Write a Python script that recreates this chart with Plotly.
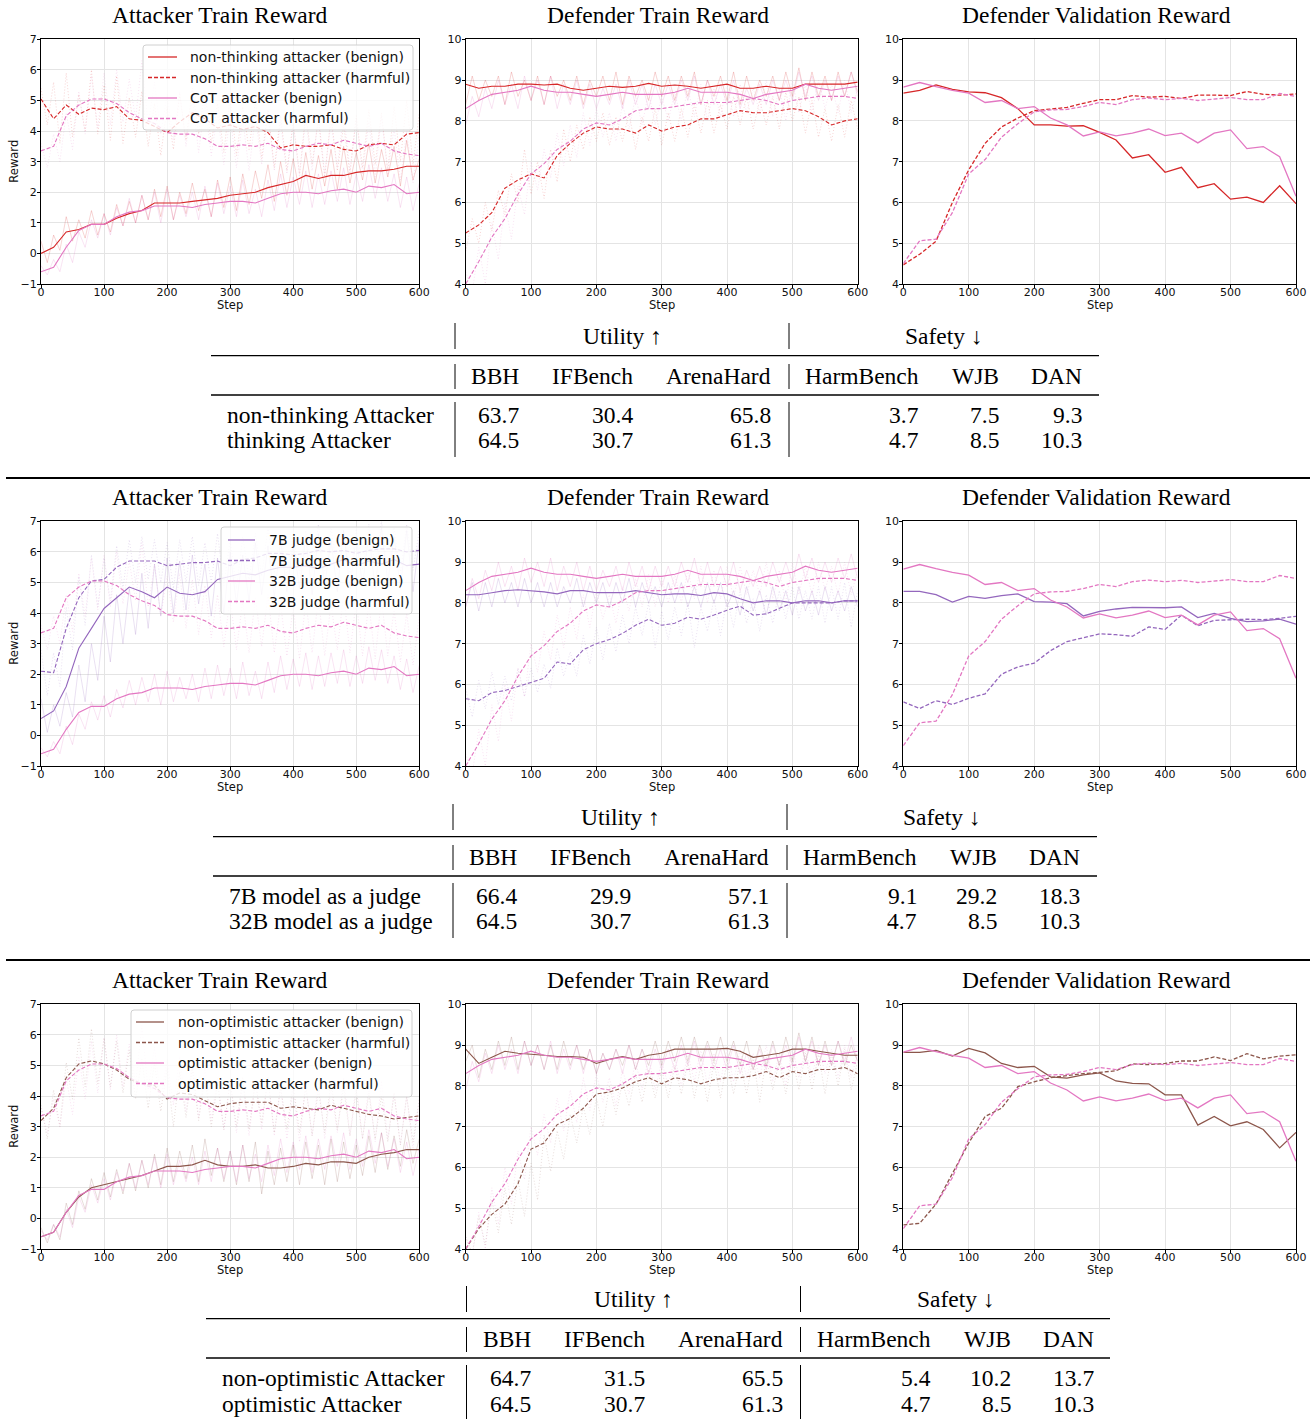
import plotly.graph_objects as go

W, H = 1316, 1419

# ---------------- data ----------------
steps20 = list(range(0, 601, 20))
steps10 = list(range(0, 601, 10))
steps25 = list(range(0, 601, 25))

atk_red_b = [0.0, 0.2, 0.7, 0.78, 0.95, 0.95, 1.15, 1.3, 1.4, 1.65, 1.65, 1.65, 1.7, 1.75, 1.8, 1.9,
             1.95, 2.0, 2.15, 2.25, 2.35, 2.55, 2.45, 2.55, 2.55, 2.65, 2.7, 2.7, 2.75, 2.85, 2.85]
atk_red_h = [5.05, 4.4, 4.85, 4.55, 4.75, 4.7, 4.8, 4.4, 4.35, 4.15, 3.95, 4.3, 4.6, 4.4, 4.1, 4.2,
             4.05, 4.15, 3.95, 3.45, 3.55, 3.5, 3.5, 3.55, 3.4, 3.35, 3.55, 3.6, 3.55, 3.9, 3.95]
atk_pink_b = [-0.6, -0.45, 0.2, 0.75, 0.95, 0.95, 1.2, 1.35, 1.4, 1.55, 1.55, 1.55, 1.5, 1.6, 1.65, 1.7,
              1.7, 1.65, 1.8, 1.95, 2.0, 2.0, 1.95, 2.05, 2.1, 2.0, 2.2, 2.15, 2.25, 1.95, 2.0]
atk_pink_h = [3.35, 3.5, 4.5, 4.85, 5.05, 5.05, 4.9, 4.6, 4.4, 4.25, 3.95, 3.9, 3.9, 3.75, 3.5, 3.5,
              3.55, 3.5, 3.6, 3.4, 3.35, 3.5, 3.6, 3.55, 3.7, 3.6, 3.5, 3.6, 3.35, 3.25, 3.2]
atk_pur_b = [0.55, 0.8, 1.6, 2.85, 3.5, 4.15, 4.5, 4.85, 4.7, 4.5, 4.85, 4.65, 4.6, 4.7, 5.1, 5.2,
             5.3, 5.25, 5.4, 5.5, 5.5, 5.55, 5.45, 5.6, 5.75, 5.55, 5.7, 5.6, 5.75, 5.55, 5.6]
atk_pur_h = [2.1, 2.05, 3.5, 4.5, 5.05, 5.1, 5.5, 5.7, 5.7, 5.7, 5.55, 5.6, 5.65, 5.65, 5.7, 5.55,
             5.75, 5.8, 5.95, 5.95, 5.9, 5.95, 6.05, 6.0, 6.05, 5.95, 6.05, 6.1, 6.1, 6.0, 6.05]
atk_brn_b = [-0.6, -0.45, 0.2, 0.7, 1.0, 1.1, 1.2, 1.3, 1.4, 1.55, 1.7, 1.7, 1.75, 1.9, 1.75, 1.7,
             1.7, 1.75, 1.65, 1.65, 1.7, 1.8, 1.75, 1.85, 1.85, 1.8, 2.0, 2.1, 2.15, 2.25, 2.25]
atk_brn_h = [3.2, 3.6, 4.6, 5.05, 5.15, 5.05, 4.85, 4.55, 4.4, 4.35, 3.9, 4.1, 4.05, 3.85, 3.65, 3.75,
             3.8, 3.8, 3.8, 3.6, 3.65, 3.6, 3.55, 3.7, 3.6, 3.5, 3.4, 3.35, 3.25, 3.3, 3.35]

def_red_b = [8.9, 8.8, 8.85, 8.85, 8.9, 8.9, 8.88, 8.9, 8.8, 8.75, 8.8, 8.85, 8.82, 8.85, 8.92, 8.85,
             8.88, 8.85, 8.8, 8.85, 8.9, 8.8, 8.8, 8.85, 8.8, 8.8, 8.9, 8.9, 8.9, 8.9, 8.95]
def_red_h = [5.25, 5.45, 5.75, 6.35, 6.55, 6.7, 6.6, 7.15, 7.45, 7.7, 7.85, 7.8, 7.8, 7.7, 7.9, 7.75,
             7.85, 7.9, 8.05, 8.05, 8.15, 8.25, 8.2, 8.2, 8.25, 8.3, 8.25, 8.1, 7.9, 8.0, 8.05]
def_pink_b = [8.3, 8.5, 8.65, 8.7, 8.75, 8.85, 8.75, 8.7, 8.7, 8.65, 8.6, 8.65, 8.7, 8.65, 8.65, 8.65,
              8.7, 8.8, 8.7, 8.7, 8.7, 8.65, 8.55, 8.65, 8.7, 8.75, 8.9, 8.8, 8.75, 8.8, 8.85]
def_pink_h = [4.0, 4.55, 5.15, 5.6, 6.2, 6.7, 6.95, 7.3, 7.5, 7.8, 7.95, 7.9, 8.05, 8.25, 8.3, 8.3,
              8.35, 8.4, 8.45, 8.45, 8.45, 8.5, 8.55, 8.5, 8.4, 8.5, 8.55, 8.6, 8.6, 8.6, 8.55]
def_pur_b = [8.2, 8.2, 8.25, 8.3, 8.32, 8.3, 8.27, 8.22, 8.3, 8.3, 8.25, 8.25, 8.25, 8.3, 8.25, 8.2,
             8.22, 8.22, 8.18, 8.25, 8.22, 8.1, 8.0, 8.05, 8.05, 8.0, 8.05, 8.05, 8.0, 8.05, 8.05]
def_pur_h = [5.65, 5.6, 5.8, 5.85, 5.95, 6.05, 6.15, 6.55, 6.5, 6.85, 7.0, 7.1, 7.25, 7.45, 7.6, 7.45,
             7.5, 7.65, 7.6, 7.7, 7.82, 7.92, 7.7, 7.73, 7.86, 8.0, 8.0, 8.0, 8.0, 8.05, 8.05]
def_brn_b = [8.9, 8.55, 8.7, 8.85, 8.8, 8.78, 8.75, 8.72, 8.72, 8.7, 8.55, 8.65, 8.72, 8.65, 8.75, 8.8,
             8.9, 8.9, 8.9, 8.9, 8.92, 8.85, 8.7, 8.75, 8.8, 8.9, 8.9, 8.85, 8.8, 8.75, 8.75]
def_brn_h = [4.0, 4.5, 4.85, 5.1, 5.6, 6.45, 6.6, 7.05, 7.2, 7.45, 7.8, 7.85, 7.95, 8.1, 8.2, 8.05,
             8.2, 8.15, 8.05, 8.15, 8.2, 8.2, 8.25, 8.35, 8.2, 8.35, 8.3, 8.4, 8.4, 8.45, 8.3]

raw_atk_red_b = [0.4, -0.3, 0.6, 0.1, 1.2, 0.4, 1.1, 0.5, 1.4, 0.6, 1.3, 0.7, 1.6, 0.9, 1.7, 1.0,
                 1.9, 1.1, 2.1, 1.2, 2.2, 1.1, 2.0, 1.3, 2.3, 1.4, 2.1, 1.2, 2.4, 1.5, 2.5, 1.4,
                 2.6, 1.6, 2.7, 1.8, 2.9, 1.7, 3.0, 1.9, 3.1, 2.0, 3.3, 2.1, 3.2, 2.2, 3.4, 2.1,
                 3.5, 2.3, 3.3, 2.4, 3.6, 2.3, 3.4, 2.5, 3.5, 2.2, 3.7, 2.4, 3.1]
raw_atk_red_h = [5.4, 4.2, 5.6, 3.6, 5.9, 3.8, 5.2, 4.0, 6.0, 3.9, 5.5, 3.7, 5.8, 3.6, 5.1, 3.8,
                 5.3, 3.5, 4.9, 3.2, 4.8, 3.4, 5.2, 3.7, 5.4, 3.9, 5.3, 3.6, 4.9, 3.3, 5.1, 3.2,
                 4.8, 3.4, 5.0, 3.1, 4.7, 2.8, 4.5, 2.7, 4.3, 2.6, 4.6, 2.9, 4.4, 2.5, 4.5, 2.7,
                 4.2, 2.6, 4.5, 2.8, 4.7, 2.9, 4.6, 2.7, 4.8, 3.0, 5.0, 2.9, 4.6]
raw_atk_pink_b = [-0.4, -0.7, -0.2, -0.6, 0.3, -0.3, 0.7, 0.2, 1.1, 0.5, 1.3, 0.6, 1.5, 0.9, 1.8, 1.0,
                  1.9, 1.1, 2.0, 1.0, 2.1, 1.1, 1.9, 1.2, 2.0, 1.1, 2.2, 1.2, 2.3, 1.3, 2.2, 1.2,
                  2.4, 1.3, 2.1, 1.2, 2.4, 1.4, 2.6, 1.5, 2.5, 1.6, 2.7, 1.5, 2.6, 1.6, 2.7, 1.7,
                  2.8, 1.6, 2.6, 1.7, 2.9, 1.8, 2.8, 1.7, 2.6, 1.5, 2.5, 1.4, 2.3]
raw_atk_pink_h = [3.6, 2.8, 3.9, 3.0, 4.6, 3.4, 5.3, 3.9, 5.8, 4.1, 5.9, 4.2, 6.0, 4.3, 5.7, 4.4,
                  6.3, 4.2, 5.6, 3.9, 5.2, 3.7, 5.3, 3.5, 5.1, 3.3, 4.9, 3.2, 4.6, 2.9, 4.5, 2.8,
                  4.4, 2.7, 4.5, 2.9, 4.6, 2.7, 4.3, 2.6, 4.2, 2.5, 4.4, 2.7, 4.5, 2.6, 4.3, 2.8,
                  4.6, 2.7, 4.4, 2.6, 4.3, 2.5, 4.5, 2.6, 4.1, 2.4, 4.0, 2.3, 3.9]
raw_atk_pur_b = [1.2, 0.1, 1.0, 0.3, 1.4, 0.6, 2.3, 1.1, 3.0, 1.8, 3.9, 2.4, 4.6, 3.0, 4.8, 3.3,
                 5.3, 3.5, 5.6, 3.9, 5.8, 4.0, 5.7, 4.1, 5.9, 4.3, 5.6, 3.9, 5.8, 4.0, 6.0, 4.3,
                 5.9, 4.4, 6.3, 4.6, 6.2, 4.5, 6.4, 4.7, 6.3, 4.8, 6.5, 4.6, 6.6, 4.9, 6.4, 4.7,
                 6.7, 4.8, 6.5, 4.9, 6.6, 4.8, 6.8, 5.0, 6.5, 4.8, 6.7, 4.7, 6.4]
raw_atk_pur_h = [2.8, 1.3, 2.7, 1.6, 4.2, 2.8, 5.2, 3.6, 5.9, 4.2, 5.8, 4.4, 6.2, 4.8, 6.4, 5.0,
                 6.5, 5.1, 6.4, 5.0, 6.3, 4.8, 6.4, 5.0, 6.5, 4.9, 6.3, 5.0, 6.6, 4.9, 6.4, 4.8,
                 6.5, 5.1, 6.6, 5.2, 6.8, 5.3, 6.7, 5.2, 6.6, 5.3, 6.7, 5.4, 6.9, 5.3, 6.8, 5.4,
                 6.7, 5.3, 6.8, 5.4, 6.9, 5.5, 7.0, 5.4, 6.8, 5.3, 6.9, 5.4, 6.7]
raw_atk_brn_b = [-0.3, -0.8, -0.2, -0.7, 0.5, -0.2, 0.9, 0.3, 1.3, 0.6, 1.5, 0.7, 1.6, 0.8, 1.8, 0.9,
                 1.9, 1.0, 2.1, 1.1, 2.3, 1.2, 2.2, 1.3, 2.4, 1.2, 2.6, 1.4, 2.3, 1.2, 2.2, 1.1,
                 2.4, 1.2, 2.5, 0.8, 2.2, 1.1, 2.3, 1.2, 2.4, 1.1, 2.5, 1.3, 2.4, 1.1, 2.6, 1.2,
                 2.5, 1.3, 2.4, 1.4, 2.7, 1.5, 2.8, 1.6, 2.7, 1.7, 2.9, 1.8, 2.6]
raw_atk_brn_h = [3.7, 2.6, 4.2, 3.0, 5.1, 3.9, 5.9, 4.3, 6.2, 4.4, 5.9, 4.3, 5.8, 4.1, 5.5, 3.9,
                 5.2, 3.6, 5.1, 3.5, 4.9, 3.0, 4.8, 3.3, 4.9, 3.2, 4.6, 3.0, 4.4, 2.9, 4.5, 3.0,
                 4.6, 2.9, 4.5, 3.1, 4.6, 2.8, 4.3, 2.9, 4.4, 2.8, 4.3, 2.7, 4.2, 2.8, 4.5, 2.9,
                 4.3, 2.7, 4.2, 2.6, 4.1, 2.6, 4.0, 2.5, 4.1, 2.4, 4.0, 2.5, 3.9]
raw_def_red_b = [8.4, 9.1, 8.5, 9.0, 8.6, 9.1, 8.4, 9.2, 8.6, 9.0, 8.5, 9.1, 8.4, 9.1, 8.6, 9.0,
                 8.5, 9.1, 8.4, 9.0, 8.6, 9.1, 8.5, 9.2, 8.4, 9.1, 8.6, 9.0, 8.5, 9.2, 8.6, 9.1,
                 8.5, 9.1, 8.6, 9.2, 8.4, 9.0, 8.6, 9.1, 8.5, 9.2, 8.4, 9.1, 8.5, 9.0, 8.6, 9.1,
                 8.5, 9.2, 8.6, 9.3, 8.5, 9.2, 8.6, 9.1, 8.5, 9.2, 8.6, 9.2, 8.7]
raw_def_red_h = [4.8, 5.6, 5.0, 6.0, 5.3, 6.3, 5.7, 6.7, 6.0, 7.3, 6.2, 7.0, 6.1, 7.3, 6.5, 7.8,
                 7.0, 7.9, 7.3, 8.1, 7.5, 8.2, 7.4, 8.1, 7.5, 8.2, 7.3, 8.1, 7.5, 8.3, 7.4, 8.2,
                 7.5, 8.3, 7.6, 8.4, 7.7, 8.5, 7.7, 8.4, 7.8, 8.6, 7.9, 8.6, 7.8, 8.5, 7.9, 8.6,
                 7.8, 8.7, 8.0, 8.6, 7.7, 8.5, 7.6, 8.3, 7.5, 8.4, 7.6, 8.5, 7.8]
raw_def_pink_b = [7.9, 8.6, 8.1, 8.8, 8.3, 9.0, 8.4, 8.9, 8.3, 9.1, 8.5, 9.0, 8.4, 9.1, 8.3, 8.9,
                  8.4, 9.0, 8.3, 8.9, 8.3, 8.8, 8.4, 8.9, 8.3, 9.0, 8.4, 8.9, 8.3, 8.9, 8.4, 8.9,
                  8.4, 9.0, 8.5, 9.1, 8.4, 9.0, 8.4, 8.9, 8.4, 9.0, 8.3, 8.8, 8.4, 8.9, 8.4, 9.0,
                  8.5, 9.0, 8.5, 9.2, 8.6, 9.1, 8.5, 9.0, 8.5, 9.1, 8.6, 9.2, 8.6]
raw_def_pink_h = [4.3, 3.8, 4.9, 4.0, 5.5, 4.6, 6.0, 5.1, 6.4, 5.7, 7.0, 6.3, 7.3, 6.6, 7.7, 6.9,
                  7.9, 7.1, 8.2, 7.4, 8.3, 7.6, 8.2, 7.5, 8.4, 7.8, 8.6, 7.9, 8.7, 7.9, 8.6, 8.0,
                  8.7, 8.0, 8.8, 8.1, 8.9, 8.0, 8.8, 8.1, 8.9, 8.1, 8.9, 8.2, 8.8, 8.2, 9.0, 8.1,
                  8.8, 8.0, 9.0, 8.2, 8.9, 8.2, 9.0, 8.3, 8.9, 8.2, 9.0, 8.2, 8.8]
raw_def_pur_b = [7.9, 8.5, 7.8, 8.5, 7.9, 8.6, 8.0, 8.5, 7.9, 8.6, 8.0, 8.5, 7.9, 8.5, 7.9, 8.4,
                 8.0, 8.6, 7.9, 8.5, 8.0, 8.5, 7.9, 8.5, 8.0, 8.6, 7.9, 8.5, 8.0, 8.4, 7.9, 8.5,
                 8.0, 8.5, 7.9, 8.4, 7.9, 8.5, 8.0, 8.5, 7.9, 8.3, 7.7, 8.4, 7.8, 8.3, 7.7, 8.4,
                 7.8, 8.3, 7.7, 8.4, 7.8, 8.3, 7.7, 8.4, 7.8, 8.3, 7.8, 8.4, 7.9]
raw_def_pur_h = [5.9, 5.2, 6.1, 5.4, 6.3, 5.5, 6.2, 5.6, 6.4, 5.7, 6.4, 5.8, 6.5, 5.9, 6.9, 6.2,
                 6.8, 6.2, 7.2, 6.5, 7.4, 6.6, 7.5, 6.8, 7.7, 7.0, 7.9, 7.2, 8.0, 6.9, 7.8, 7.1,
                 7.9, 7.2, 8.0, 6.9, 7.9, 7.3, 8.1, 7.2, 8.1, 7.4, 8.3, 7.5, 8.1, 7.3, 8.2, 7.5,
                 8.3, 7.6, 8.4, 7.6, 8.3, 7.6, 8.4, 7.5, 8.4, 7.6, 8.5, 7.4, 8.3]
raw_def_brn_b = [8.6, 9.0, 8.2, 8.9, 8.4, 9.1, 8.5, 9.2, 8.4, 9.1, 8.5, 9.0, 8.4, 9.0, 8.4, 9.1,
                 8.5, 9.0, 8.4, 8.9, 8.3, 8.8, 8.4, 8.9, 8.5, 9.0, 8.4, 8.9, 8.5, 9.1, 8.5, 9.1,
                 8.6, 9.2, 8.6, 9.2, 8.6, 9.1, 8.6, 9.2, 8.6, 9.1, 8.5, 9.1, 8.4, 9.0, 8.5, 9.1,
                 8.5, 9.2, 8.6, 9.3, 8.6, 9.2, 8.5, 9.1, 8.5, 9.1, 8.5, 9.0, 8.6]
raw_def_brn_h = [4.3, 3.9, 4.8, 4.1, 5.2, 4.4, 5.5, 4.6, 5.7, 4.8, 6.1, 5.2, 6.8, 5.9, 6.9, 6.2,
                 7.3, 6.6, 7.5, 6.8, 7.7, 7.0, 8.0, 7.3, 8.1, 7.5, 8.3, 7.6, 8.4, 7.7, 8.4, 7.7,
                 8.5, 7.8, 8.6, 7.7, 8.5, 7.6, 8.6, 7.7, 8.6, 7.8, 8.6, 7.8, 8.7, 7.6, 8.7, 7.9,
                 8.6, 7.8, 8.7, 7.9, 8.8, 7.9, 8.8, 7.8, 8.8, 8.0, 8.9, 7.9, 8.6]

val_red_b = [8.68, 8.75, 8.88, 8.77, 8.71, 8.69, 8.57, 8.3, 7.9, 7.9, 7.87, 7.88, 7.72, 7.53, 7.09,
             7.17, 6.74, 6.86, 6.36, 6.46, 6.08, 6.13, 6.0, 6.41, 5.97]
val_red_h = [4.47, 4.73, 5.05, 6.0, 6.8, 7.45, 7.85, 8.07, 8.25, 8.29, 8.33, 8.43, 8.52, 8.52, 8.62,
             8.58, 8.6, 8.55, 8.63, 8.63, 8.62, 8.72, 8.65, 8.63, 8.66]
val_pink_b = [8.83, 8.94, 8.84, 8.75, 8.68, 8.45, 8.5, 8.3, 8.35, 8.07, 7.9, 7.63, 7.73, 7.63, 7.7,
              7.8, 7.64, 7.7, 7.46, 7.7, 7.78, 7.32, 7.37, 7.12, 6.15]
val_pink_h = [4.5, 5.06, 5.1, 5.75, 6.7, 7.05, 7.6, 7.93, 8.22, 8.27, 8.28, 8.35, 8.45, 8.4, 8.52,
              8.56, 8.52, 8.55, 8.5, 8.53, 8.57, 8.52, 8.52, 8.67, 8.6]
val_pur_b = [8.28, 8.28, 8.2, 8.02, 8.16, 8.11, 8.18, 8.22, 8.03, 8.02, 7.98, 7.68, 7.79, 7.85, 7.89,
             7.88, 7.88, 7.9, 7.64, 7.74, 7.62, 7.54, 7.56, 7.6, 7.48]
val_pur_h = [5.57, 5.41, 5.6, 5.51, 5.66, 5.77, 6.25, 6.43, 6.52, 6.83, 7.05, 7.15, 7.24, 7.22, 7.18,
             7.41, 7.35, 7.7, 7.44, 7.57, 7.58, 7.6, 7.59, 7.62, 7.67]
val_brn_b = [8.82, 8.82, 8.87, 8.73, 8.92, 8.81, 8.55, 8.45, 8.48, 8.22, 8.19, 8.27, 8.32, 8.12, 8.06,
             8.05, 7.78, 7.78, 7.04, 7.25, 7.02, 7.12, 6.93, 6.48, 6.86]
val_brn_h = [4.59, 4.63, 5.1, 5.85, 6.6, 7.25, 7.45, 7.98, 8.1, 8.2, 8.25, 8.3, 8.33, 8.37, 8.54,
             8.52, 8.55, 8.61, 8.61, 8.71, 8.62, 8.79, 8.66, 8.73, 8.76]

titles = ["Attacker Train Reward", "Defender Train Reward", "Defender Validation Reward"]

legend1 = ["non-thinking attacker (benign)", "non-thinking attacker (harmful)",
           "CoT attacker (benign)", "CoT attacker (harmful)"]
legend2 = ["7B judge (benign)", "7B judge (harmful)", "32B judge (benign)", "32B judge (harmful)"]
legend3 = ["non-optimistic attacker (benign)", "non-optimistic attacker (harmful)",
           "optimistic attacker (benign)", "optimistic attacker (harmful)"]

col_headers = ["BBH", "IFBench", "ArenaHard", "HarmBench", "WJB", "DAN"]
tab1_rows = ["non-thinking Attacker", "thinking Attacker"]
tab1_vals = [["63.7", "30.4", "65.8", "3.7", "7.5", "9.3"],
             ["64.5", "30.7", "61.3", "4.7", "8.5", "10.3"]]
tab2_rows = ["7B model as a judge", "32B model as a judge"]
tab2_vals = [["66.4", "29.9", "57.1", "9.1", "29.2", "18.3"],
             ["64.5", "30.7", "61.3", "4.7", "8.5", "10.3"]]
tab3_rows = ["non-optimistic Attacker", "optimistic Attacker"]
tab3_vals = [["64.7", "31.5", "65.5", "5.4", "10.2", "13.7"],
             ["64.5", "30.7", "61.3", "4.7", "8.5", "10.3"]]

# ---------------- styling ----------------
RED = (214, 39, 40)
PINK = (227, 119, 194)
PURPLE = (148, 103, 189)
BROWN = (140, 86, 75)

SERIF = "Liberation Serif, Times New Roman, serif"
SANS = "DejaVu Sans, sans-serif"


def rgba(c, a=1.0):
    return f"rgba({c[0]},{c[1]},{c[2]},{a})"


def px(x):
    return x / W


def py(y):
    return 1 - y / H


cols_px = [(41.0, 419.3), (465.7, 857.7), (903.3, 1296.0)]
rows_px = [(39.3, 284.0), (521.3, 766.0), (1004.3, 1249.0)]

sections = [
    dict(
        atk=[(atk_red_b, raw_atk_red_b, RED, False), (atk_red_h, raw_atk_red_h, RED, True),
             (atk_pink_b, raw_atk_pink_b, PINK, False), (atk_pink_h, raw_atk_pink_h, PINK, True)],
        dfd=[(def_red_b, raw_def_red_b, RED, False), (def_red_h, raw_def_red_h, RED, True),
             (def_pink_b, raw_def_pink_b, PINK, False), (def_pink_h, raw_def_pink_h, PINK, True)],
        val=[(val_red_b, RED, False), (val_red_h, RED, True),
             (val_pink_b, PINK, False), (val_pink_h, PINK, True)],
        legend=legend1, colors=[RED, RED, PINK, PINK],
        lbox=(143, 413, 45, 130), lsamp=(148, 177), ltext=188, lys=[57, 77.5, 98, 118.5],
    ),
    dict(
        atk=[(atk_pur_b, raw_atk_pur_b, PURPLE, False), (atk_pur_h, raw_atk_pur_h, PURPLE, True),
             (atk_pink_b, raw_atk_pink_b, PINK, False), (atk_pink_h, raw_atk_pink_h, PINK, True)],
        dfd=[(def_pur_b, raw_def_pur_b, PURPLE, False), (def_pur_h, raw_def_pur_h, PURPLE, True),
             (def_pink_b, raw_def_pink_b, PINK, False), (def_pink_h, raw_def_pink_h, PINK, True)],
        val=[(val_pur_b, PURPLE, False), (val_pur_h, PURPLE, True),
             (val_pink_b, PINK, False), (val_pink_h, PINK, True)],
        legend=legend2, colors=[PURPLE, PURPLE, PINK, PINK],
        lbox=(221, 412, 527, 614), lsamp=(228, 255), ltext=267, lys=[540, 560.5, 581, 601.5],
    ),
    dict(
        atk=[(atk_brn_b, raw_atk_brn_b, BROWN, False), (atk_brn_h, raw_atk_brn_h, BROWN, True),
             (atk_pink_b, raw_atk_pink_b, PINK, False), (atk_pink_h, raw_atk_pink_h, PINK, True)],
        dfd=[(def_brn_b, raw_def_brn_b, BROWN, False), (def_brn_h, raw_def_brn_h, BROWN, True),
             (def_pink_b, raw_def_pink_b, PINK, False), (def_pink_h, raw_def_pink_h, PINK, True)],
        val=[(val_brn_b, BROWN, False), (val_brn_h, BROWN, True),
             (val_pink_b, PINK, False), (val_pink_h, PINK, True)],
        legend=legend3, colors=[BROWN, BROWN, PINK, PINK],
        lbox=(131, 412, 1010, 1097), lsamp=(136, 164), ltext=176, lys=[1022, 1042.5, 1063, 1083.5],
    ),
]

fig = go.Figure()
layout = dict(
    width=W, height=H, margin=dict(l=0, r=0, t=0, b=0, pad=0, autoexpand=False),
    paper_bgcolor="white", plot_bgcolor="white", showlegend=False,
    font=dict(family=SANS, color="#111"),
)
annotations = []
shapes = []

DASH = "4px,2px"
DOT = "1px,2px"


def axis_names(idx):
    return ("x" if idx == 1 else f"x{idx}"), ("y" if idx == 1 else f"y{idx}")


for s, sec in enumerate(sections):
    r0, r1 = rows_px[s]
    for c in range(3):
        idx = s * 3 + c + 1
        xn, yn = axis_names(idx)
        c0, c1 = cols_px[c]
        common = dict(
            showline=True, mirror=True, linecolor="black", linewidth=1,
            ticks="outside", ticklen=3, tickwidth=1, tickcolor="black",
            showgrid=True, gridcolor="#e4e4e4", gridwidth=1, zeroline=False,
            tickfont=dict(family=SANS, size=11, color="#111"), automargin=False,
        )
        layout["xaxis" if idx == 1 else f"xaxis{idx}"] = dict(
            domain=[px(c0), px(c1)], anchor=yn, range=[0, 600], ticklabelstandoff=-5,
            tickmode="array", tickvals=[0, 100, 200, 300, 400, 500, 600], **common)
        yr = [-1, 7] if c == 0 else [4, 10]
        layout["yaxis" if idx == 1 else f"yaxis{idx}"] = dict(
            domain=[py(r1), py(r0)], anchor=xn, range=yr, ticklabelstandoff=-2,
            tickmode="linear", tick0=yr[0], dtick=1, **common)

        tcx = [219.5, 658, 1096][c]
        annotations.append(dict(
            text=titles[c], x=px(tcx), y=py(r0 - 24), xref="paper", yref="paper",
            xanchor="center", yanchor="middle", showarrow=False,
            font=dict(family=SERIF, size=23.5, color="black")))
        annotations.append(dict(
            text="Step", x=px((c0 + c1) / 2), y=py(r1 + 21), xref="paper", yref="paper",
            xanchor="center", yanchor="middle", showarrow=False,
            font=dict(family=SANS, size=11.5, color="#111")))

        if c < 2:
            series = sec["atk"] if c == 0 else sec["dfd"]
            for sm, raw, col, harm in series:
                fig.add_trace(go.Scatter(
                    x=steps10, y=raw, xaxis=xn, yaxis=yn, mode="lines", hoverinfo="skip",
                    line=dict(color=rgba(col, 0.2), width=1, dash=DOT if harm else "solid")))
            for sm, raw, col, harm in series:
                fig.add_trace(go.Scatter(
                    x=steps20, y=sm, xaxis=xn, yaxis=yn, mode="lines", hoverinfo="skip",
                    line=dict(color=rgba(col), width=1.1, dash=DASH if harm else "solid")))
        else:
            for v, col, harm in sec["val"]:
                fig.add_trace(go.Scatter(
                    x=steps25, y=v, xaxis=xn, yaxis=yn, mode="lines", hoverinfo="skip",
                    line=dict(color=rgba(col), width=1.3, dash=DASH if harm else "solid")))

    annotations.append(dict(
        text="Reward", x=px(14), y=py((r0 + r1) / 2), xref="paper", yref="paper",
        xanchor="center", yanchor="middle", showarrow=False, textangle=-90,
        font=dict(family=SANS, size=11.5, color="#111")))

    bx0, bx1, by0, by1 = sec["lbox"]
    rr = 3
    path = (f"M {px(bx0 + rr)} {py(by0)} L {px(bx1 - rr)} {py(by0)} "
            f"Q {px(bx1)} {py(by0)} {px(bx1)} {py(by0 + rr)} L {px(bx1)} {py(by1 - rr)} "
            f"Q {px(bx1)} {py(by1)} {px(bx1 - rr)} {py(by1)} L {px(bx0 + rr)} {py(by1)} "
            f"Q {px(bx0)} {py(by1)} {px(bx0)} {py(by1 - rr)} L {px(bx0)} {py(by0 + rr)} "
            f"Q {px(bx0)} {py(by0)} {px(bx0 + rr)} {py(by0)} Z")
    shapes.append(dict(type="path", path=path, xref="paper", yref="paper",
                       fillcolor="rgba(255,255,255,0.8)", line=dict(color="#d0d0d0", width=1)))
    for k, (lab, col) in enumerate(zip(sec["legend"], sec["colors"])):
        ly = sec["lys"][k]
        shapes.append(dict(type="line", xref="paper", yref="paper",
                           x0=px(sec["lsamp"][0]), x1=px(sec["lsamp"][1]), y0=py(ly), y1=py(ly),
                           line=dict(color=rgba(col), width=1.3, dash=DASH if k % 2 else "solid")))
        annotations.append(dict(
            text=lab, x=px(sec["ltext"]), y=py(ly), xref="paper", yref="paper",
            xanchor="left", yanchor="middle", showarrow=False,
            font=dict(family=SANS, size=14, color="#111")))


def draw_table(dy, dxc, left, right, name_x, rows, vals):
    def ann(text, x, y, anchor):
        annotations.append(dict(
            text=text, x=px(x), y=py(y + dy), xref="paper", yref="paper",
            xanchor=anchor, yanchor="middle", showarrow=False,
            font=dict(family=SERIF, size=23.5, color="black")))

    for yy in (355.7, 395.0):
        shapes.append(dict(type="line", xref="paper", yref="paper",
                           x0=px(left), x1=px(right), y0=py(yy + dy), y1=py(yy + dy),
                           line=dict(color="black", width=1.3)))
    for vx in (455 + dxc, 789 + dxc):
        for a, b in ((323, 349), (364, 389), (402, 457)):
            shapes.append(dict(type="line", xref="paper", yref="paper",
                               x0=px(vx), x1=px(vx), y0=py(a + dy), y1=py(b + dy),
                               line=dict(color="black", width=1)))
    ann("Utility ↑", 622 + dxc, 336, "center")
    ann("Safety ↓", 944 + dxc, 336, "center")
    rights = [521, 635, 773, 921, 1001, 1084]
    for h, rx in zip(col_headers, rights):
        ann(h, rx + dxc, 376, "right")
    for i, (name, row) in enumerate(zip(rows, vals)):
        yy = [414.5, 440.5][i]
        ann(name, name_x - 2, yy, "left")
        for v, rx in zip(row, rights):
            ann(v, rx + dxc, yy, "right")


draw_table(0, 0, 211, 1099, 227, tab1_rows, tab1_vals)
draw_table(481, -2, 213, 1097, 229, tab2_rows, tab2_vals)
draw_table(963, 11.5, 206, 1110, 222, tab3_rows, tab3_vals)

for sy in (478, 960):
    shapes.append(dict(type="line", xref="paper", yref="paper",
                       x0=px(6), x1=px(1310), y0=py(sy), y1=py(sy),
                       line=dict(color="black", width=2)))

layout["annotations"] = annotations
layout["shapes"] = shapes
fig.update_layout(**layout)

page_css = "document.documentElement.style.margin='0px';document.body.style.margin='0px';"
fig.write_html("out.html", config={"displayModeBar": False}, post_script=page_css)
